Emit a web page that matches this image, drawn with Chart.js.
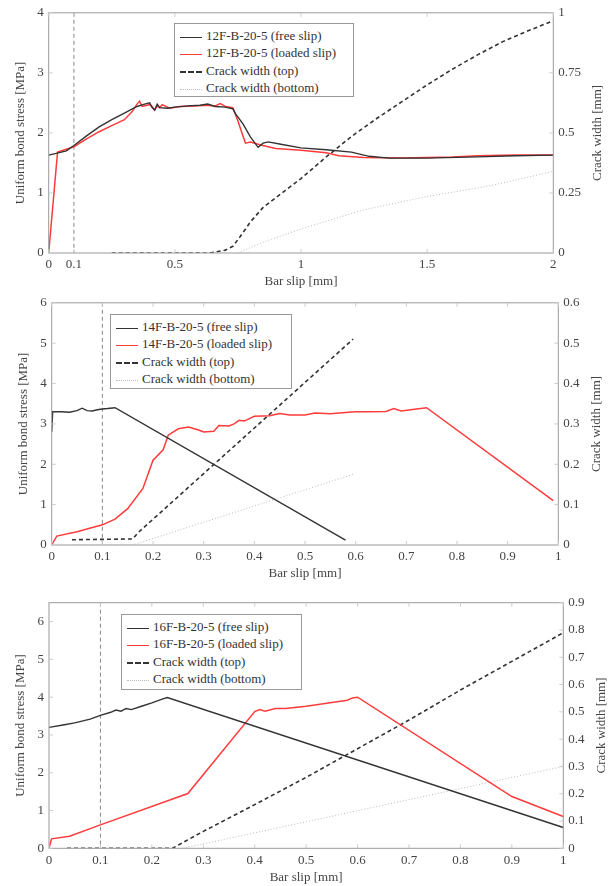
<!DOCTYPE html>
<html>
<head>
<meta charset="utf-8">
<script src="https://cdn.jsdelivr.net/npm/chart.js@4"></script>
<style>
  body { margin: 0; background: #fff; width: 610px; height: 886px; position: relative; overflow: hidden; }
  .panel { position: absolute; left: 0; width: 610px; }
  .legend { position: absolute; border: 1px solid #999; background: #fff; font: 13px "Liberation Serif", serif; color: #333; box-sizing: border-box; padding: 3px 0 0 5px; }
  .legend div { height: 17.4px; line-height: 17.4px; white-space: nowrap; }
  .legend span { display: inline-block; width: 22px; vertical-align: middle; margin-right: 4px; }
</style>
</head>
<body>
<div class="panel" style="top:0;height:295px"><canvas id="c1" width="610" height="295"></canvas></div>
<div class="panel" style="top:290px;height:296px"><canvas id="c2" width="610" height="296"></canvas></div>
<div class="panel" style="top:586px;height:300px"><canvas id="c3" width="610" height="300"></canvas></div>

<div class="legend" style="left:174px;top:23px;width:180px;height:74px">
  <div><span style="border-top:1.6px solid #333"></span>12F-B-20-5 (free slip)</div>
  <div><span style="border-top:1.6px solid #ff3b3b"></span>12F-B-20-5 (loaded slip)</div>
  <div><span style="border-top:2px dashed #333"></span>Crack width (top)</div>
  <div><span style="border-top:1px dotted #bbb"></span>Crack width (bottom)</div>
</div>
<div class="legend" style="left:110px;top:314px;width:182px;height:75px">
  <div><span style="border-top:1.6px solid #333"></span>14F-B-20-5 (free slip)</div>
  <div><span style="border-top:1.6px solid #ff3b3b"></span>14F-B-20-5 (loaded slip)</div>
  <div><span style="border-top:2px dashed #333"></span>Crack width (top)</div>
  <div><span style="border-top:1px dotted #bbb"></span>Crack width (bottom)</div>
</div>
<div class="legend" style="left:121px;top:614px;width:181px;height:76px">
  <div><span style="border-top:1.6px solid #333"></span>16F-B-20-5 (free slip)</div>
  <div><span style="border-top:1.6px solid #ff3b3b"></span>16F-B-20-5 (loaded slip)</div>
  <div><span style="border-top:2px dashed #333"></span>Crack width (top)</div>
  <div><span style="border-top:1px dotted #bbb"></span>Crack width (bottom)</div>
</div>

<script>
// ---- data: [bar slip mm, value] ----
// panel 1 : 12F-B-20-5
const free12 = [[0,1.63],[0.03,1.66],[0.07,1.7],[0.1,1.79],[0.15,1.95],[0.2,2.1],[0.25,2.22],[0.3,2.33],[0.35,2.44],[0.38,2.48],[0.4,2.5],[0.41,2.42],[0.42,2.38],[0.43,2.48],[0.44,2.42],[0.47,2.41],[0.5,2.43],[0.55,2.45],[0.6,2.46],[0.63,2.48],[0.66,2.44],[0.7,2.43],[0.73,2.4],[0.74,2.32],[0.77,2.15],[0.8,1.93],[0.83,1.76],[0.85,1.83],[0.87,1.85],[0.92,1.81],[1.0,1.75],[1.1,1.72],[1.2,1.68],[1.27,1.61],[1.35,1.58],[1.5,1.58],[1.7,1.6],[1.85,1.62],[2.0,1.63]];
const loaded12 = [[0,0],[0.035,1.68],[0.1,1.77],[0.15,1.9],[0.2,2.02],[0.25,2.12],[0.3,2.22],[0.33,2.35],[0.35,2.48],[0.36,2.53],[0.37,2.44],[0.39,2.46],[0.4,2.47],[0.41,2.44],[0.42,2.38],[0.43,2.45],[0.44,2.42],[0.45,2.47],[0.48,2.41],[0.52,2.44],[0.58,2.45],[0.62,2.46],[0.66,2.45],[0.68,2.49],[0.7,2.44],[0.73,2.42],[0.75,2.2],[0.77,1.95],[0.78,1.83],[0.8,1.85],[0.84,1.8],[0.9,1.74],[1.0,1.71],[1.1,1.67],[1.15,1.62],[1.25,1.59],[1.4,1.58],[1.6,1.6],[1.7,1.62],[1.85,1.63],[2.0,1.63]];
const crackTop12 = [[0.25,0],[0.64,0],[0.7,0.012],[0.73,0.028],[0.76,0.07],[0.8,0.13],[0.85,0.19],[0.9,0.23],[0.95,0.27],[1.0,0.31],[1.05,0.355],[1.1,0.4],[1.2,0.485],[1.3,0.56],[1.4,0.63],[1.5,0.7],[1.6,0.765],[1.7,0.825],[1.8,0.88],[1.9,0.925],[2.0,0.967]];
const crackBot12 = [[0.75,0],[0.85,0.045],[1.0,0.1],[1.25,0.18],[1.5,0.235],[1.75,0.28],[2.0,0.34]];
const xTicks12 = [0, 0.1, 0.5, 1, 1.5, 2];
const yTicks12 = [0, 1, 2, 3, 4];
const y2Ticks12 = [0, 0.25, 0.5, 0.75, 1];

// panel 2 : 14F-B-20-5
const free14 = [[0,2.8],[0.002,3.3],[0.02,3.3],[0.035,3.29],[0.05,3.33],[0.06,3.39],[0.07,3.33],[0.08,3.32],[0.09,3.35],[0.1,3.37],[0.11,3.38],[0.125,3.4],[0.58,0.12]];
const loaded14 = [[0,0],[0.01,0.22],[0.05,0.33],[0.1,0.5],[0.125,0.64],[0.15,0.9],[0.18,1.4],[0.2,2.1],[0.22,2.36],[0.23,2.72],[0.25,2.88],[0.27,2.92],[0.29,2.85],[0.3,2.8],[0.32,2.82],[0.33,2.96],[0.35,2.95],[0.36,3.0],[0.37,3.09],[0.38,3.07],[0.4,3.19],[0.43,3.2],[0.45,3.26],[0.47,3.22],[0.5,3.22],[0.52,3.27],[0.55,3.25],[0.58,3.28],[0.6,3.3],[0.63,3.3],[0.66,3.31],[0.675,3.38],[0.69,3.32],[0.72,3.37],[0.74,3.4],[0.99,1.1]];
const crackTop14 = [[0.04,0.013],[0.16,0.015],[0.17,0.03],[0.595,0.51]];
const crackBot14 = [[0.04,0],[0.16,0],[0.595,0.175]];
const xTicks14 = [0, 0.1, 0.2, 0.3, 0.4, 0.5, 0.6, 0.7, 0.8, 0.9, 1];
const yTicks14 = [0, 1, 2, 3, 4, 5, 6];
const y2Ticks14 = [0, 0.1, 0.2, 0.3, 0.4, 0.5, 0.6];

// panel 3 : 16F-B-20-5
const free16 = [[0,3.2],[0.03,3.27],[0.05,3.32],[0.08,3.42],[0.1,3.52],[0.12,3.6],[0.13,3.66],[0.14,3.63],[0.15,3.7],[0.16,3.67],[0.18,3.76],[0.2,3.85],[0.22,3.95],[0.23,3.99],[1.0,0.55]];
const loaded16 = [[0,0],[0.005,0.25],[0.04,0.32],[0.1,0.62],[0.27,1.45],[0.4,3.62],[0.41,3.67],[0.42,3.63],[0.44,3.7],[0.46,3.7],[0.5,3.76],[0.55,3.86],[0.58,3.92],[0.59,3.98],[0.6,4.0],[0.9,1.37],[1.0,0.84]];
const crackTop16 = [[0.035,0],[0.24,0],[0.3,0.062],[0.4,0.16],[0.5,0.26],[0.6,0.365],[0.7,0.47],[0.8,0.58],[0.9,0.685],[1.0,0.79]];
const crackBot16 = [[0.26,0],[1.0,0.3]];
const xTicks16 = [0, 0.1, 0.2, 0.3, 0.4, 0.5, 0.6, 0.7, 0.8, 0.9, 1];
const yTicks16 = [0, 1, 2, 3, 4, 5, 6];
const y2Ticks16 = [0, 0.1, 0.2, 0.3, 0.4, 0.5, 0.6, 0.7, 0.8, 0.9];

const refSlip = 0.1; // vertical dashed marker

const FONT = "'Liberation Serif'";
Chart.defaults.font.family = FONT;
Chart.defaults.font.size = 13;
Chart.defaults.color = '#444';

const toXY = arr => arr.map(p => ({ x: p[0], y: p[1] }));
const fmt = v => String(+Number(v).toFixed(3));

// frame, inward tick marks, marker line and axis titles (pgfplots look)
const frame = {
  id: 'frame',
  beforeDatasetsDraw(chart) {
    const a = chart.chartArea, ctx = chart.ctx;
    const x = chart.scales.x.getPixelForValue(refSlip);
    ctx.save();
    ctx.strokeStyle = '#888';
    ctx.lineWidth = 1;
    ctx.setLineDash([4, 3]);
    ctx.beginPath();
    ctx.moveTo(x, a.top);
    ctx.lineTo(x, a.bottom);
    ctx.stroke();
    ctx.restore();
  },
  afterDraw(chart, args, o) {
    const a = chart.chartArea, ctx = chart.ctx, s = chart.scales;
    ctx.save();
    ctx.strokeStyle = '#999';
    ctx.lineWidth = 1;
    ctx.strokeRect(a.left, a.top, a.right - a.left, a.bottom - a.top);
    ctx.strokeStyle = '#ccc';
    ctx.beginPath();
    s.x.ticks.forEach(t => {
      const px = s.x.getPixelForValue(t.value);
      ctx.moveTo(px, a.bottom); ctx.lineTo(px, a.bottom - 4);
      ctx.moveTo(px, a.top); ctx.lineTo(px, a.top + 4);
    });
    s.y.ticks.forEach(t => {
      const py = s.y.getPixelForValue(t.value);
      ctx.moveTo(a.left, py); ctx.lineTo(a.left + 4, py);
    });
    s.y2.ticks.forEach(t => {
      const py = s.y2.getPixelForValue(t.value);
      ctx.moveTo(a.right, py); ctx.lineTo(a.right - 4, py);
    });
    ctx.stroke();

    ctx.fillStyle = '#444';
    ctx.font = "13px " + FONT;
    ctx.textAlign = 'center';
    ctx.textBaseline = 'middle';
    const midY = (a.top + a.bottom) / 2;
    ctx.fillText('Bar slip [mm]', (a.left + a.right) / 2, a.bottom + 29);
    [[a.left - 28, 'Uniform bond stress [MPa]'], [a.right + o.rightTitle, 'Crack width [mm]']].forEach(([tx, label]) => {
      ctx.save();
      ctx.translate(tx, midY);
      ctx.rotate(-Math.PI / 2);
      ctx.fillText(label, 0, 0);
      ctx.restore();
    });
    ctx.restore();
  }
};

function buildChart(id, p) {
  const fixTicks = vals => scale => { scale.ticks = vals.map(v => ({ value: v })); };
  new Chart(document.getElementById(id), {
    type: 'line',
    data: {
      datasets: [
        { data: toXY(p.free), borderColor: '#333', borderWidth: 1.4, yAxisID: 'y' },
        { data: toXY(p.loaded), borderColor: '#ff3b3b', borderWidth: 1.5, yAxisID: 'y' },
        { data: toXY(p.top), borderColor: '#333', borderWidth: 1.6, borderDash: [4, 3], yAxisID: 'y2' },
        { data: toXY(p.bottom), borderColor: '#bbb', borderWidth: 1, borderDash: [1, 2], yAxisID: 'y2' }
      ]
    },
    options: {
      responsive: false,
      animation: false,
      parsing: false,
      elements: { point: { radius: 0 }, line: { tension: 0 } },
      layout: { padding: { top: p.top0, left: 0, right: 0, bottom: 0 } },
      plugins: { legend: { display: false }, tooltip: { enabled: false }, frame: { rightTitle: p.rightTitle } },
      scales: {
        x: {
          type: 'linear', min: 0, max: p.xMax,
          afterBuildTicks: fixTicks(p.xTicks),
          afterFit: s => { s.height = p.xH; },
          grid: { display: false, drawTicks: false }, border: { display: false },
          ticks: { padding: 4, maxRotation: 0, autoSkip: false, callback: fmt }
        },
        y: {
          position: 'left', min: 0, max: p.yMax,
          afterBuildTicks: fixTicks(p.yTicks),
          afterFit: s => { s.width = p.left; },
          grid: { display: false, drawTicks: false }, border: { display: false },
          ticks: { padding: 5, autoSkip: false, callback: fmt }
        },
        y2: {
          position: 'right', min: 0, max: p.y2Max,
          afterBuildTicks: fixTicks(p.y2Ticks),
          afterFit: s => { s.width = 610 - p.right; },
          grid: { display: false, drawTicks: false }, border: { display: false },
          ticks: { padding: 5, autoSkip: false, callback: fmt }
        }
      }
    },
    plugins: [frame]
  });
}

function drawAll() {
  buildChart('c1', { free: free12, loaded: loaded12, top: crackTop12, bottom: crackBot12,
    xTicks: xTicks12, yTicks: yTicks12, y2Ticks: y2Ticks12, xMax: 2, yMax: 4, y2Max: 1,
    top0: 12, left: 48.7, right: 553.3, xH: 42, rightTitle: 44 });
  buildChart('c2', { free: free14, loaded: loaded14, top: crackTop14, bottom: crackBot14,
    xTicks: xTicks14, yTicks: yTicks14, y2Ticks: y2Ticks14, xMax: 1, yMax: 6, y2Max: 0.6,
    top0: 12, left: 51.7, right: 558.3, xH: 41, rightTitle: 38 });
  buildChart('c3', { free: free16, loaded: loaded16, top: crackTop16, bottom: crackBot16,
    xTicks: xTicks16, yTicks: yTicks16, y2Ticks: y2Ticks16, xMax: 1, yMax: 6.5, y2Max: 0.9,
    top0: 16.7, left: 49, right: 563.3, xH: 37.7, rightTitle: 38 });
}

document.fonts.load("13px " + FONT).then(drawAll, drawAll);
</script>
</body>
</html>
